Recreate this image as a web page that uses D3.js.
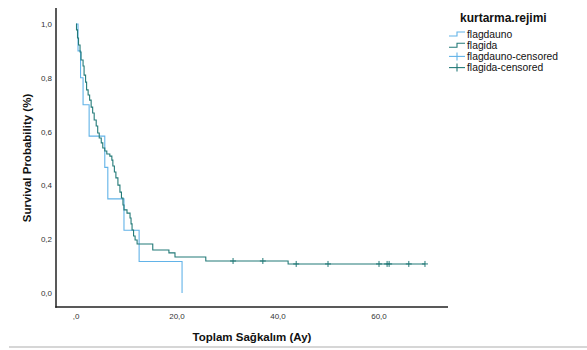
<!DOCTYPE html>
<html><head><meta charset="utf-8">
<script src="https://cdn.jsdelivr.net/npm/d3@7"></script>
<style>body{margin:0;background:#fff;}svg{display:block;}text{font-family:"Liberation Sans",Arial,sans-serif;}</style>
</head><body><svg id="c" width="587" height="350"></svg>
<script>
// Flagdauno Kaplan-Meier steps (time in months, survival)
const flagdaunoTime = [0, 0.4, 0.9, 1.4, 2.6, 5.7, 6.3, 9.5, 12.5, 21.0];
const flagdaunoSurv = [1.0, 0.9, 0.8, 0.7, 0.583, 0.467, 0.35, 0.233, 0.117, 0.0];
// Flagida Kaplan-Meier steps
const flagidaTime = [0, 0.1, 0.3, 0.5, 0.8, 1.0, 1.4, 1.6, 1.9, 2.1, 2.4, 2.7, 3.0, 3.3, 3.6, 4.0, 4.3, 4.6, 5.0, 5.3, 5.7, 6.1, 6.7, 7.1, 7.3, 7.6, 7.9, 8.3, 8.7, 9.0, 9.3, 9.5, 10.1, 10.7, 10.9, 11.1, 11.4, 11.7, 12.1, 15.2, 18.4, 19.6, 25.7, 42.0, 69.1];
const flagidaSurv = [1.0, 0.978, 0.948, 0.922, 0.896, 0.866, 0.844, 0.81, 0.784, 0.755, 0.736, 0.717, 0.691, 0.669, 0.643, 0.621, 0.595, 0.576, 0.558, 0.539, 0.528, 0.517, 0.509, 0.494, 0.472, 0.45, 0.428, 0.401, 0.375, 0.353, 0.327, 0.309, 0.297, 0.279, 0.257, 0.234, 0.212, 0.197, 0.182, 0.16, 0.149, 0.134, 0.119, 0.108, 0.108];
// Censored observations (flagida)
const flagidaCensTime = [31.1, 37.0, 43.6, 49.9, 60.0, 61.6, 62.0, 65.9, 69.1];
const flagidaCensSurv = [0.119, 0.119, 0.108, 0.108, 0.108, 0.108, 0.108, 0.108, 0.108];
const flagdaunoCensTime = [];
const flagdaunoCensSurv = [];
// Axes ticks
const xTicks = [0, 20, 40, 60];
const xTickLabels = [",0", "20,0", "40,0", "60,0"];
const yTicks = [0, 0.2, 0.4, 0.6, 0.8, 1.0];
const yTickLabels = ["0,0", "0,2", "0,4", "0,6", "0,8", "1,0"];
const legendLabels = ["flagdauno", "flagida", "flagdauno-censored", "flagida-censored"];
const legendTitle = "kurtarma.rejimi";
const xTitle = "Toplam Sağkalım (Ay)";
const yTitle = "Survival Probability (%)";

const cBlue = "#62b3e8", cTeal = "#237a78";
const svg = d3.select("#c");
const x = d3.scaleLinear().domain([-3.96, 73.66]).range([56, 448]);
const y = d3.scaleLinear().domain([0, 1]).range([293, 24]);
const yTop = 8, yBot = 307;

// series
const line = d3.line().x(d => x(d[0])).y(d => y(d[1])).curve(d3.curveStepAfter);
const blue = flagdaunoTime.map((t, i) => [t, flagdaunoSurv[i]]);
const teal = flagidaTime.map((t, i) => [t, flagidaSurv[i]]);
svg.append("path").attr("d", line(blue)).attr("fill", "none").attr("stroke", cBlue).attr("stroke-width", 1.1);
svg.append("path").attr("d", line(teal)).attr("fill", "none").attr("stroke", cTeal).attr("stroke-width", 1.1);

function cens(times, survs, col) {
  times.forEach((t, i) => {
    const cx = x(t), cy = y(survs[i]);
    svg.append("line").attr("x1", cx).attr("x2", cx).attr("y1", cy - 3).attr("y2", cy + 3).attr("stroke", col).attr("stroke-width", 1);
    svg.append("line").attr("x1", cx - 3).attr("x2", cx + 3).attr("y1", cy).attr("y2", cy).attr("stroke", col).attr("stroke-width", 1);
  });
}
cens(flagdaunoCensTime, flagdaunoCensSurv, cBlue);
cens(flagidaCensTime, flagidaCensSurv, cTeal);

// frame axes
svg.append("line").attr("x1", 56).attr("x2", 56).attr("y1", yTop).attr("y2", yBot + 0.75).attr("stroke", "#222").attr("stroke-width", 1.5);
svg.append("line").attr("x1", 55.25).attr("x2", 448).attr("y1", yBot).attr("y2", yBot).attr("stroke", "#222").attr("stroke-width", 1.5);

// tick labels
svg.selectAll(".yt").data(yTicks).enter().append("text")
  .attr("x", 52).attr("y", d => y(d) + 3).attr("text-anchor", "end")
  .attr("font-size", 8).attr("fill", "#333").text((d, i) => yTickLabels[i]);
svg.selectAll(".xt").data(xTicks).enter().append("text")
  .attr("x", d => x(d)).attr("y", 319).attr("text-anchor", "middle")
  .attr("font-size", 8).attr("fill", "#333").text((d, i) => xTickLabels[i]);

// titles
svg.append("text").attr("x", 252).attr("y", 341).attr("text-anchor", "middle")
  .attr("font-size", 11.5).attr("font-weight", "bold").attr("fill", "#111").text(xTitle);
svg.append("text").attr("transform", "translate(31,158) rotate(-90)").attr("text-anchor", "middle")
  .attr("font-size", 11.5).attr("font-weight", "bold").attr("fill", "#111").text(yTitle);

// legend
svg.append("text").attr("x", 460).attr("y", 22).attr("font-size", 12).attr("font-weight", "bold").attr("fill", "#111").text(legendTitle);
const legCols = [cBlue, cTeal, cBlue, cTeal];
legendLabels.forEach((lab, i) => {
  const cy = 34 + i * 11.2;
  const g = svg.append("g");
  if (i < 2) {
    g.append("path").attr("d", `M449,${cy + 2}H457V${cy - 2}H465`).attr("fill", "none").attr("stroke", legCols[i]).attr("stroke-width", 1.1);
  } else {
    g.append("line").attr("x1", 449).attr("x2", 465).attr("y1", cy).attr("y2", cy).attr("stroke", legCols[i]).attr("stroke-width", 1.1);
    g.append("line").attr("x1", 457).attr("x2", 457).attr("y1", cy - 4).attr("y2", cy + 4).attr("stroke", legCols[i]).attr("stroke-width", 1.1);
  }
  g.append("text").attr("x", 467).attr("y", cy + 3.5).attr("font-size", 10.3).attr("fill", "#111").text(lab);
});

// bottom separator
svg.append("line").attr("x1", 9).attr("x2", 587).attr("y1", 347).attr("y2", 347).attr("stroke", "#c8c8c8").attr("stroke-width", 1.5);
</script></body></html>
